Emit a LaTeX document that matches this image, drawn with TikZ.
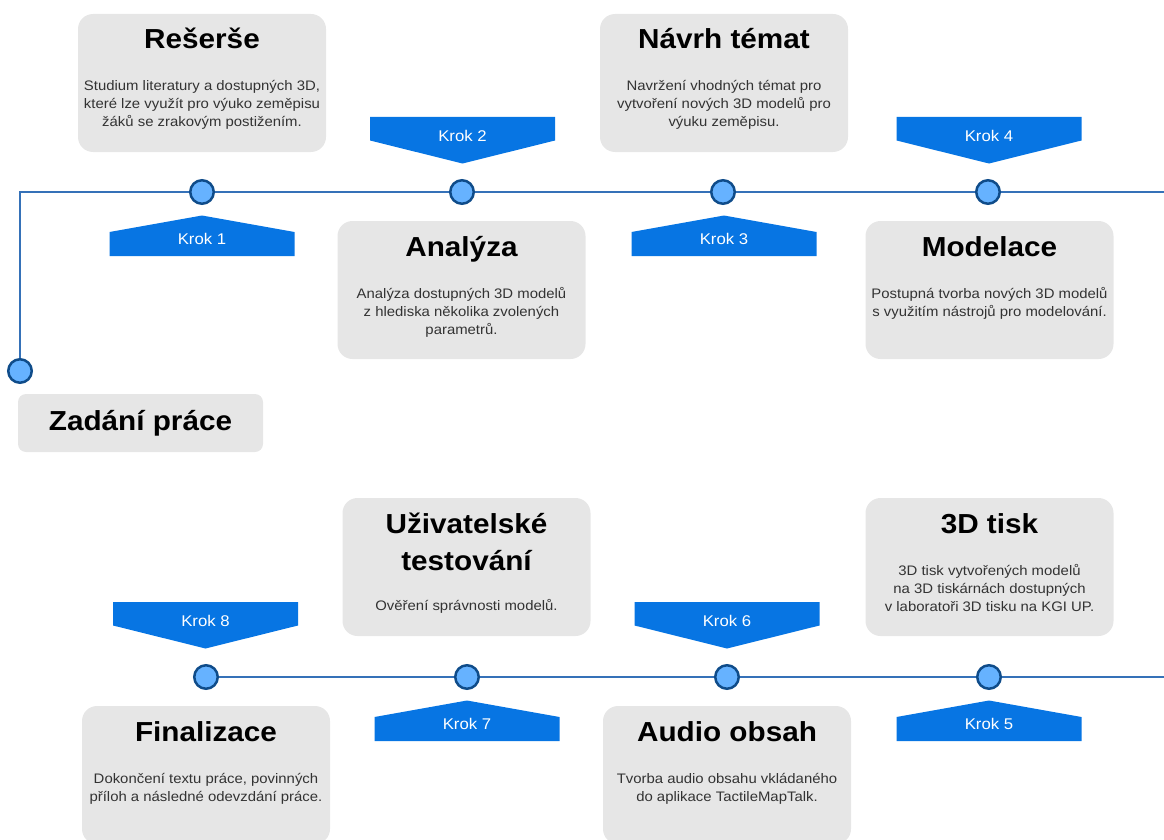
\documentclass[tikz,border=0pt]{standalone}
\usepackage{fontspec}
\setmainfont{Liberation Sans}[FakeStretch=1.08]
\definecolor{cardfill}{HTML}{E6E6E6}
\definecolor{krokblue}{HTML}{0775E3}
\definecolor{linec}{HTML}{3571B8}
\definecolor{dotfill}{HTML}{66B2FF}
\definecolor{dotdraw}{HTML}{0F4C8A}
\definecolor{desc}{HTML}{333333}
\tikzset{
  card/.style={fill=cardfill, draw=none, rounded corners=15pt, minimum width=248pt, minimum height=138pt, inner sep=0pt},
  ttl/.style={anchor=base, inner sep=0pt, font=\fontsize{27.5}{33}\selectfont\bfseries, text=black},
  dsc/.style={anchor=base, inner sep=0pt, font=\fontsize{13.8}{18}\selectfont, text=desc},
  krok/.style={anchor=base, inner sep=0pt, font=\fontsize{15.5}{18}\selectfont, text=white},
  krokc/.style={fill=krokblue},
  dot/.style={circle, inner sep=0pt, minimum size=23.5pt, line width=2.5pt, draw=dotdraw, fill=dotfill},
  tline/.style={draw=linec, line width=2.6pt}
}
\newcommand\card[3]{\node[card] (#1) at (#2,#3+69) {};}
\newcommand\krokup[4]{%
  \fill[krokc] (#2-92.5,#3+64) -- (#2-92.5,#3+40) -- (#2,#3+23.5) -- (#2+92.5,#3+40) -- (#2+92.5,#3+64) -- cycle;
  \node[krok] (#1) at (#2,#3+52.3) {#4};}
\newcommand\krokdown[4]{%
  \fill[krokc] (#2-92.5,#3-75) -- (#2+92.5,#3-75) -- (#2+92.5,#3-51.5) -- (#2,#3-28.5) -- (#2-92.5,#3-51.5) -- cycle;
  \node[krok] (#1) at (#2,#3-50.3) {#4};}
\begin{document}
\begin{tikzpicture}[x=1pt,y=-1pt]
\useasboundingbox (0,0) rectangle (1164,840);
\clip (0,0) rectangle (1164,840);
% ---- timeline lines
\coordinate (topend) at (1164,192);
\coordinate (botend) at (1164,677);
\node[dot] (c0) at (20,371) {};
\draw[tline] (c0.north) |- (topend);
\node[dot] (c1) at (202,192) {};
\node[dot] (c2) at (462,192) {};
\node[dot] (c3) at (723,192) {};
\node[dot] (c4) at (988,192) {};
\node[dot] (c8) at (206,677) {};
\draw[tline] (c8.east) -- (botend);
\node[dot] (c7) at (467,677) {};
\node[dot] (c6) at (727,677) {};
\node[dot] (c5) at (989,677) {};
% ---- start box
\node[card, rounded corners=8pt, minimum width=245pt, minimum height=58pt] (zad) at (140.5,423) {};
\node[ttl] (zadt) at (140.5,430) {Zadání práce};
% ---- cards, top row
\card{b1}{202}{14}
\node[ttl] (b1t) at (202,49) {Rešerše};
\node[dsc] (b1a) at (202,91) {Studium literatury a dostupných 3D,};
\node[dsc] (b1b) at (202,109) {které lze využít pro výuko zeměpisu};
\node[dsc] (b1c) at (202,127) {žáků se zrakovým postižením.};
\card{b2}{461.5}{221}
\node[ttl] (b2t) at (461.5,256) {Analýza};
\node[dsc] (b2a) at (461.5,298) {Analýza dostupných 3D modelů};
\node[dsc] (b2b) at (461.5,316) {z hlediska několika zvolených};
\node[dsc] (b2c) at (461.5,334) {parametrů.};
\card{b3}{724}{14}
\node[ttl] (b3t) at (724,49) {Návrh témat};
\node[dsc] (b3a) at (724,91) {Navržení vhodných témat pro};
\node[dsc] (b3b) at (724,109) {vytvoření nových 3D modelů pro};
\node[dsc] (b3c) at (724,127) {výuku zeměpisu.};
\card{b4}{989.5}{221}
\node[ttl] (b4t) at (989.5,256) {Modelace};
\node[dsc] (b4a) at (989.5,298) {Postupná tvorba nových 3D modelů};
\node[dsc] (b4b) at (989.5,316) {s využitím nástrojů pro modelování.};
% ---- cards, bottom row
\card{b5}{989.5}{498}
\node[ttl] (b5t) at (989.5,533) {3D tisk};
\node[dsc] (b5a) at (989.5,575) {3D tisk vytvořených modelů};
\node[dsc] (b5b) at (989.5,593) {na 3D tiskárnách dostupných};
\node[dsc] (b5c) at (989.5,611) {v laboratoři 3D tisku na KGI UP.};
\card{b6}{727}{706}
\node[ttl] (b6t) at (727,741) {Audio obsah};
\node[dsc] (b6a) at (727,783) {Tvorba audio obsahu vkládaného};
\node[dsc] (b6b) at (727,801) {do aplikace TactileMapTalk.};
\card{b7}{466.5}{498}
\node[ttl] (b7t) at (466.5,533) {Uživatelské};
\node[ttl] (b7u) at (466.5,570) {testování};
\node[dsc] (b7a) at (466.5,610.5) {Ověření správnosti modelů.};
\card{b8}{206}{706}
\node[ttl] (b8t) at (206,741) {Finalizace};
\node[dsc] (b8a) at (206,783) {Dokončení textu práce, povinných};
\node[dsc] (b8b) at (206,801) {příloh a následné odevzdání práce.};
% ---- step tags
\krokup{k1}{202}{192}{Krok 1}
\krokdown{k2}{462.5}{192}{Krok 2}
\krokup{k3}{724}{192}{Krok 3}
\krokdown{k4}{989}{192}{Krok 4}
\krokup{k5}{989}{677}{Krok 5}
\krokdown{k6}{727}{677}{Krok 6}
\krokup{k7}{467}{677}{Krok 7}
\krokdown{k8}{205.5}{677}{Krok 8}
\end{tikzpicture}
\end{document}
